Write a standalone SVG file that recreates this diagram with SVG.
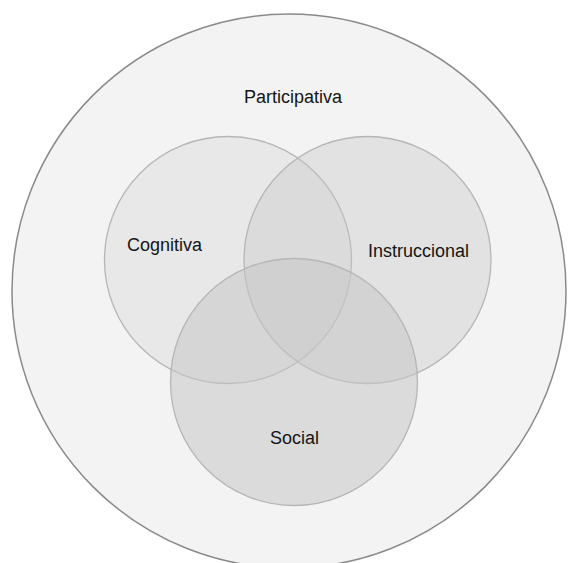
<svg xmlns="http://www.w3.org/2000/svg" width="568" height="563" viewBox="0 0 568 563">
<style>
.lbl{font-family:"Liberation Sans",Arial,sans-serif;font-size:18px;fill:#151515;}
.set{fill:#c6c6c6;stroke:#b6b6b6;stroke-width:1.3;}
</style>
<rect width="568" height="563" fill="#ffffff"/>
<g id="participativa">
<circle cx="289" cy="291" r="277" fill="#f3f3f3" stroke="#8a8a8a" stroke-width="1.5"/>
<text class="lbl" x="244" y="103">Participativa</text>
</g>
<g id="cognitiva">
<circle class="set" cx="228" cy="260" r="123.5" fill-opacity="0.22"/>
<text class="lbl" x="127" y="251">Cognitiva</text>
</g>
<g id="instruccional">
<circle class="set" cx="367.5" cy="260" r="123.5" fill-opacity="0.36"/>
<text class="lbl" x="368" y="257">Instruccional</text>
</g>
<g id="social">
<circle class="set" cx="294" cy="382" r="123.5" fill-opacity="0.55"/>
<text class="lbl" x="270" y="444">Social</text>
</g>
<g id="connectors"></g>
</svg>
